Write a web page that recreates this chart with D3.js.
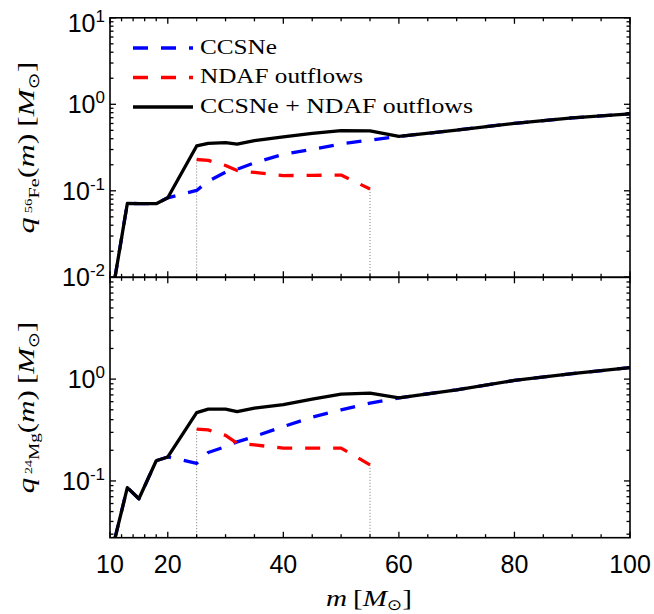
<!DOCTYPE html>
<html><head><meta charset="utf-8">
<script src="https://cdn.jsdelivr.net/npm/d3@7"></script>
<style>body{margin:0;background:#fff}svg{display:block}</style>
</head><body>
<svg id="chart" width="654" height="614"></svg>
<script>
// ---------------- data ----------------
const mass      = [10.8, 13, 15, 18, 20, 25, 27, 30, 32, 35, 40, 45, 50, 55, 60, 70, 80, 90, 100];
const feTotal   = [0.0094, 0.0715, 0.0712, 0.0710, 0.083, 0.33, 0.354, 0.36, 0.347, 0.38, 0.42, 0.46, 0.497, 0.492, 0.425, 0.503, 0.603, 0.695, 0.775];
const feCCSNe   = [0.0094, 0.0715, 0.0712, 0.0710, 0.083, 0.101, 0.129, 0.164, 0.177, 0.211, 0.264, 0.302, 0.348, 0.386, 0.425, 0.503, 0.603, 0.695, 0.775];
const massNDAF  = [25, 27, 30, 32, 35, 40, 45, 50, 55];
const feNDAF    = [0.23, 0.225, 0.196, 0.172, 0.163, 0.15, 0.151, 0.152, 0.105];
const mgTotal   = [0.0265, 0.086, 0.0668, 0.158, 0.172, 0.469, 0.507, 0.507, 0.48, 0.52, 0.563, 0.636, 0.712, 0.728, 0.655, 0.785, 0.97, 1.13, 1.30];
const mgCCSNe   = [0.0265, 0.086, 0.0668, 0.158, 0.172, 0.149, 0.19, 0.217, 0.242, 0.273, 0.342, 0.423, 0.499, 0.58, 0.655, 0.785, 0.97, 1.13, 1.30];
const mgNDAF    = [0.322, 0.317, 0.28, 0.235, 0.226, 0.21, 0.21, 0.21, 0.144];
const xMajorTicks = [10, 20, 40, 60, 80, 100];
const xMinorTicks = [12, 14, 16, 18, 25, 30, 35, 45, 50, 55, 65, 70, 75, 85, 90, 95];
const feYTickExps = [1, 0, -1, -2];
const mgYTickExps = [0, -1];
const legendLabels = ["CCSNe", "NDAF outflows", "CCSNe + NDAF outflows"];
const legendColors = ["#0000ff", "#ff0000", "#000000"];
const markerMasses = [25, 55];

// ---------------- layout ----------------
const svg = d3.select("#chart");
const L = 110, R = 630;
const x = d3.scaleLinear().domain([10, 100]).range([L, R]);
const panels = [
  {top: 17.8, bottom: 277.3, domain: [0.01, 10], total: feTotal, ccsne: feCCSNe, ndaf: feNDAF,
   labelExps: feYTickExps, xLabels: false, elem: "Fe", iso: "56"},
  {top: 277.3, bottom: 537.7, domain: [0.0277, 10], total: mgTotal, ccsne: mgCCSNe, ndaf: mgNDAF,
   labelExps: mgYTickExps, xLabels: true, elem: "Mg", iso: "24"}
];
const serif = "'Liberation Serif','DejaVu Serif',serif";
const sans = "'Liberation Sans',Arial,sans-serif";

panels.forEach((p, i) => {
  const y = d3.scaleLog().domain(p.domain).range([p.bottom, p.top]);
  const g = svg.append("g");
  const clipId = "clip" + i;
  svg.append("clipPath").attr("id", clipId).append("rect")
    .attr("x", L).attr("y", p.top).attr("width", R - L).attr("height", p.bottom - p.top);
  const plot = g.append("g").attr("clip-path", `url(#${clipId})`);

  // dotted markers
  markerMasses.forEach(m => {
    const idx = massNDAF.indexOf(m);
    plot.append("line").attr("x1", x(m)).attr("x2", x(m))
      .attr("y1", y(p.ndaf[idx])).attr("y2", p.bottom)
      .attr("stroke", "#777").attr("stroke-width", 1).attr("stroke-dasharray", "1,2");
  });

  const line = d3.line().x(d => x(d[0])).y(d => y(d[1]));
  plot.append("path").datum(mass.map((m, k) => [m, p.ccsne[k]])).attr("d", line)
    .attr("fill", "none").attr("stroke", legendColors[0]).attr("stroke-width", 3.3)
    .attr("stroke-dasharray", "15,13").attr("stroke-linejoin", "round");
  plot.append("path").datum(massNDAF.map((m, k) => [m, p.ndaf[k]])).attr("d", line)
    .attr("fill", "none").attr("stroke", legendColors[1]).attr("stroke-width", 3.3)
    .attr("stroke-dasharray", "15,13").attr("stroke-linejoin", "round");
  plot.append("path").datum(mass.map((m, k) => [m, p.total[k]])).attr("d", line)
    .attr("fill", "none").attr("stroke", legendColors[2]).attr("stroke-width", 3.3)
    .attr("stroke-linejoin", "round");

  // frame
  g.append("rect").attr("x", L).attr("y", p.top).attr("width", R - L).attr("height", p.bottom - p.top)
    .attr("fill", "none").attr("stroke", "#000").attr("stroke-width", 1.6);

  const ax = g.append("g").attr("stroke", "#000").attr("stroke-width", 1.3);
  // x ticks (bottom & top, inward)
  xMajorTicks.concat(xMinorTicks).forEach(v => {
    const len = xMajorTicks.includes(v) ? 6 : 3.5;
    ax.append("line").attr("x1", x(v)).attr("x2", x(v)).attr("y1", p.bottom).attr("y2", p.bottom - len);
    ax.append("line").attr("x1", x(v)).attr("x2", x(v)).attr("y1", p.top).attr("y2", p.top + len);
  });
  // y ticks (log, inward, left & right)
  const lo = Math.floor(Math.log10(p.domain[0])), hi = Math.ceil(Math.log10(p.domain[1]));
  for (let e = lo; e <= hi; e++) {
    for (let k = 1; k <= 9; k++) {
      const v = k * Math.pow(10, e);
      if (v < p.domain[0] * 0.999 || v > p.domain[1] * 1.001) continue;
      const len = k === 1 ? 6 : 3.5;
      ax.append("line").attr("x1", L).attr("x2", L + len).attr("y1", y(v)).attr("y2", y(v));
      ax.append("line").attr("x1", R).attr("x2", R - len).attr("y1", y(v)).attr("y2", y(v));
    }
  }
  // y tick labels
  p.labelExps.forEach(e => {
    const ty = Math.max(y(Math.pow(10, e)) + 9, 32);
    const t = g.append("text").attr("x", 105).attr("y", ty).attr("text-anchor", "end")
      .attr("font-family", sans).attr("font-size", 25).attr("fill", "#000");
    t.append("tspan").text("10");
    t.append("tspan").attr("font-size", 17).attr("dy", -10).text(String(e));
  });
  // x tick labels
  if (p.xLabels) {
    xMajorTicks.forEach(v => {
      g.append("text").attr("x", x(v)).attr("y", 573).attr("text-anchor", "middle")
        .attr("font-family", sans).attr("font-size", 25).attr("fill", "#000").text(v);
    });
  }
  // y axis label
  const cy = (p.top + p.bottom) / 2;
  const yl = g.append("text").attr("text-anchor", "middle")
    .attr("font-family", serif).attr("font-size", 24).attr("fill", "#000");
  yl.append("tspan").attr("font-style", "italic").text("q");
  yl.append("tspan").attr("font-size", 11).attr("dx", 3).attr("dy", -2).text(p.iso);
  yl.append("tspan").attr("font-size", 15).attr("dy", 7).text(p.elem);
  yl.append("tspan").attr("dy", -5).text("(");
  yl.append("tspan").attr("font-style", "italic").text("m");
  yl.append("tspan").text(")\u2009[");
  yl.append("tspan").attr("font-style", "italic").text("M");
  yl.append("tspan").attr("font-size", 15).attr("dy", 5).attr("font-family", "'DejaVu Sans',sans-serif").text("\u2299");
  yl.append("tspan").attr("dy", -5).text("]");
  const w = yl.node().getComputedTextLength();
  yl.attr("transform", `translate(34,${cy}) rotate(-90) scale(${168 / w},1)`);
});

// legend
const legY = [48, 77.5, 107];
legendLabels.forEach((lab, i) => {
  svg.append("line").attr("x1", 133).attr("x2", 193).attr("y1", legY[i]).attr("y2", legY[i])
    .attr("stroke", legendColors[i]).attr("stroke-width", 3.3)
    .attr("stroke-dasharray", i < 2 ? "15,13" : null);
  const widths = [77, 163, 273];
  svg.append("text").attr("x", 200).attr("y", legY[i] + 5.5)
    .attr("font-family", serif).attr("font-size", 20).attr("fill", "#000")
    .attr("textLength", widths[i]).attr("lengthAdjust", "spacingAndGlyphs").text(lab);
});

// x axis label
const xl = svg.append("text").attr("text-anchor", "middle")
  .attr("font-family", serif).attr("font-size", 24).attr("fill", "#000");
xl.append("tspan").attr("font-style", "italic").text("m");
xl.append("tspan").text("\u2009[");
xl.append("tspan").attr("font-style", "italic").text("M");
xl.append("tspan").attr("font-size", 15).attr("dy", 4).attr("font-family", "'DejaVu Sans',sans-serif").text("\u2299");
xl.append("tspan").attr("dy", -4).text("]");
const xw = xl.node().getComputedTextLength();
xl.attr("transform", `translate(369,606) scale(${86 / xw},1)`);
</script>
</body></html>
